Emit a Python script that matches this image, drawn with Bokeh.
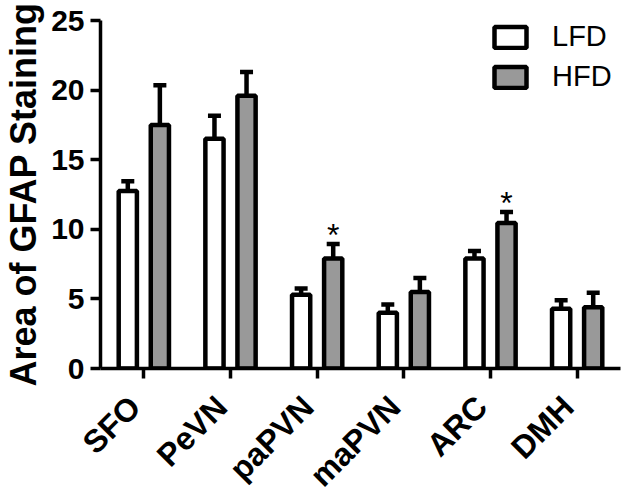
from bokeh.plotting import figure
from bokeh.models import (ColumnDataSource, FactorRange, Range1d, FixedTicker,
                          Legend, LegendItem)
from bokeh.transform import dodge
from bokeh.core.properties import value
from bokeh.embed import file_html
from bokeh.resources import INLINE

# ---- data ----
regions = ["SFO", "PeVN", "paPVN", "maPVN", "ARC", "DMH"]
lfd_mean = [12.75, 16.5, 5.3, 4.0, 7.9, 4.3]
lfd_sem = [0.7, 1.65, 0.45, 0.6, 0.55, 0.6]
hfd_mean = [17.5, 19.6, 7.9, 5.5, 10.45, 4.4]
hfd_sem = [2.85, 1.7, 1.05, 1.0, 0.8, 1.05]
significant = ["paPVN", "ARC"]
y_ticks = [0, 5, 10, 15, 20, 25]

FONT = "Liberation Sans"
GRAY = "#999999"
LW = 4.5
OFF = 0.185
BW = 0.21
CAP = 0.075

src = ColumnDataSource(dict(
    region=regions,
    lfd=lfd_mean, lfd_top=[m + s for m, s in zip(lfd_mean, lfd_sem)],
    hfd=hfd_mean, hfd_top=[m + s for m, s in zip(hfd_mean, hfd_sem)],
    base=[0] * len(regions),
))
star_src = ColumnDataSource(dict(
    region=significant,
    y=[hfd_mean[regions.index(r)] + hfd_sem[regions.index(r)] for r in significant],
    t=["*"] * len(significant),
))

p = figure(width=629, height=497, x_range=FactorRange(*regions),
           y_range=Range1d(0, 25), output_backend="svg", toolbar_location=None,
           min_border_left=96, min_border_right=9, min_border_top=20,
           min_border_bottom=129)
p.outline_line_color = None
p.grid.grid_line_color = None
p.x_range.range_padding = 0

# error bars (drawn first so bars cover stems)
for key, off in (("lfd", -OFF), ("hfd", OFF)):
    p.segment(x0=dodge("region", off, range=p.x_range), y0=key,
              x1=dodge("region", off, range=p.x_range), y1=key + "_top",
              source=src, line_color="black", line_width=LW)
    p.segment(x0=dodge("region", off - CAP, range=p.x_range), y0=key + "_top",
              x1=dodge("region", off + CAP, range=p.x_range), y1=key + "_top",
              source=src, line_color="black", line_width=LW)

r_lfd = p.vbar(x=dodge("region", -OFF, range=p.x_range), top="lfd", width=BW,
               source=src, fill_color="white", line_color="black", line_width=LW)
r_hfd = p.vbar(x=dodge("region", OFF, range=p.x_range), top="hfd", width=BW,
               source=src, fill_color=GRAY, line_color="black", line_width=LW)

p.text(x=dodge("region", OFF, range=p.x_range), y="y", text="t", source=star_src,
       text_font=value(FONT), text_font_size="32px", text_align="center",
       text_baseline="alphabetic", y_offset=-9, text_color="black")

legend = Legend(items=[LegendItem(label="LFD", renderers=[r_lfd]),
                       LegendItem(label="HFD", renderers=[r_hfd])],
                location=(390, 275), padding=0, margin=0, spacing=7,
                glyph_width=40, glyph_height=26, label_standoff=22,
                label_width=70,
                label_text_font=FONT, label_text_font_size="29px",
                label_text_color="black",
                border_line_alpha=0, background_fill_alpha=0)
p.add_layout(legend)

# category labels, rotated 45 degrees, ending at the tick (drawn unclipped)
p.text(x="region", y="base", text="region", source=src, level="annotation",
       angle=0.785398, text_align="right", text_baseline="middle",
       x_offset=-9, y_offset=33, text_font=value(FONT),
       text_font_size="32px", text_font_style="bold", text_color="black")

# axes
p.yaxis.ticker = FixedTicker(ticks=y_ticks)
p.yaxis.axis_label = "Area of GFAP Staining"
p.yaxis.axis_label_text_font = FONT
p.yaxis.axis_label_text_font_size = "36px"
p.yaxis.axis_label_text_font_style = "bold"
p.yaxis.axis_label_text_color = "black"
p.yaxis.axis_label_standoff = 4
p.yaxis.minor_tick_line_color = None
for ax in (p.xaxis, p.yaxis):
    ax.axis_line_width = 3.5
    ax.major_tick_line_width = 3.5
    ax.major_tick_out = 10
    ax.major_tick_in = 0
    ax.major_label_text_font = FONT
    ax.major_label_text_font_size = "30px"
    ax.major_label_text_font_style = "bold"
    ax.major_label_text_color = "black"
    ax.major_label_standoff = 6
p.xaxis.major_label_text_color = None

open("out.html", "w").write(file_html(p, INLINE))
